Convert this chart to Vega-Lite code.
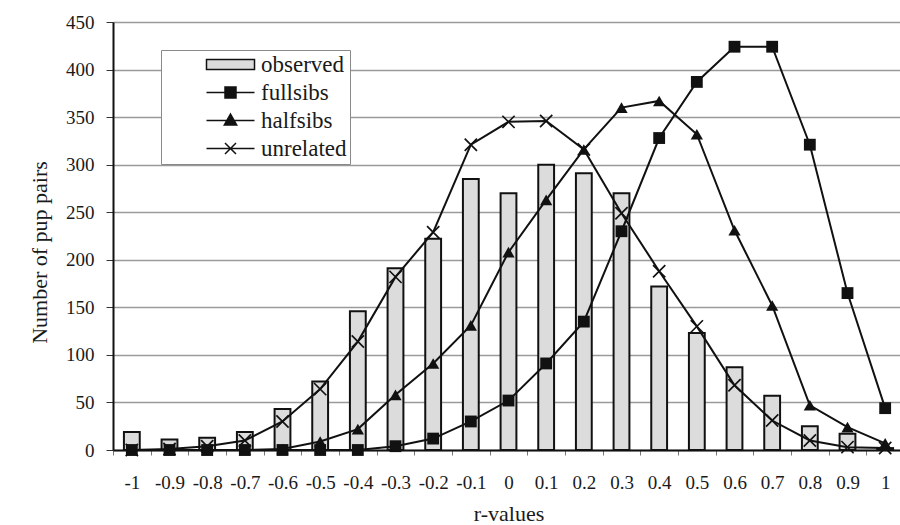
{
  "$schema": "https://vega.github.io/schema/vega-lite/v6.json",
  "width": 791,
  "height": 428,
  "autosize": {"type": "none"},
  "padding": {"left": 113, "top": 22, "right": 0, "bottom": 75},
  "background": "white",
  "config": {
    "view": {"stroke": null},
    "font": "Liberation Serif",
    "axis": {"labelFont": "Liberation Serif", "titleFont": "Liberation Serif", "titleFontWeight": "normal", "labelColor": "#1a1a1a", "titleColor": "#1a1a1a"}
  },
  "datasets": {
    "main": [
      {"r": "-1", "observed": 19, "fullsibs": 0, "halfsibs": 0, "unrelated": 0},
      {"r": "-0.9", "observed": 11, "fullsibs": 0, "halfsibs": 0, "unrelated": 1},
      {"r": "-0.8", "observed": 13, "fullsibs": 0, "halfsibs": 0, "unrelated": 4},
      {"r": "-0.7", "observed": 19, "fullsibs": 0, "halfsibs": 0, "unrelated": 10},
      {"r": "-0.6", "observed": 43, "fullsibs": 0, "halfsibs": 1, "unrelated": 30},
      {"r": "-0.5", "observed": 72, "fullsibs": 0, "halfsibs": 9, "unrelated": 64},
      {"r": "-0.4", "observed": 146, "fullsibs": 0, "halfsibs": 22, "unrelated": 114},
      {"r": "-0.3", "observed": 191, "fullsibs": 4, "halfsibs": 58, "unrelated": 182},
      {"r": "-0.2", "observed": 222, "fullsibs": 12, "halfsibs": 91, "unrelated": 229},
      {"r": "-0.1", "observed": 285, "fullsibs": 30, "halfsibs": 131, "unrelated": 321},
      {"r": "0", "observed": 270, "fullsibs": 52, "halfsibs": 208, "unrelated": 345},
      {"r": "0.1", "observed": 300, "fullsibs": 91, "halfsibs": 263, "unrelated": 346},
      {"r": "0.2", "observed": 291, "fullsibs": 135, "halfsibs": 316, "unrelated": 316},
      {"r": "0.3", "observed": 270, "fullsibs": 230, "halfsibs": 360, "unrelated": 249},
      {"r": "0.4", "observed": 172, "fullsibs": 328, "halfsibs": 367, "unrelated": 188},
      {"r": "0.5", "observed": 123, "fullsibs": 387, "halfsibs": 332, "unrelated": 130},
      {"r": "0.6", "observed": 87, "fullsibs": 424, "halfsibs": 231, "unrelated": 68},
      {"r": "0.7", "observed": 57, "fullsibs": 424, "halfsibs": 152, "unrelated": 31},
      {"r": "0.8", "observed": 25, "fullsibs": 321, "halfsibs": 47, "unrelated": 10},
      {"r": "0.9", "observed": 17, "fullsibs": 165, "halfsibs": 24, "unrelated": 3},
      {"r": "1", "observed": 2, "fullsibs": 44, "halfsibs": 7, "unrelated": 2}
    ],
    "legendItems": [
      {"r": "0", "series": "observed", "value": null},
      {"r": "0", "series": "fullsibs", "value": null},
      {"r": "0", "series": "halfsibs", "value": null},
      {"r": "0", "series": "unrelated", "value": null}
    ]
  },
  "encoding": {
    "x": {
      "field": "r",
      "type": "ordinal",
      "sort": null,
      "scale": {"domain": ["-1","-0.9","-0.8","-0.7","-0.6","-0.5","-0.4","-0.3","-0.2","-0.1","0","0.1","0.2","0.3","0.4","0.5","0.6","0.7","0.8","0.9","1"], "paddingInner": 0, "paddingOuter": 0},
      "axis": {
        "title": "r-values",
        "titleFontSize": 22,
        "titlePadding": 11,
        "labelAngle": 0,
        "labelFontSize": 19,
        "labelPadding": 18,
        "tickBand": "extent",
        "tickSize": 5,
        "tickColor": "#777",
        "domainColor": "#111",
        "domainWidth": 2,
        "grid": false
      }
    }
  },
  "layer": [
    {
      "data": {"name": "main"},
      "mark": {"type": "bar", "width": {"band": 0.42}, "fill": "#dcdcdc", "stroke": "#111", "strokeWidth": 2},
      "encoding": {
        "y": {
          "field": "observed",
          "type": "quantitative",
          "scale": {"domain": [0, 450], "nice": false},
          "axis": {
            "title": "Number of pup pairs",
            "titleFontSize": 22,
            "titlePadding": 14,
            "titleY": 230,
            "values": [0, 50, 100, 150, 200, 250, 300, 350, 400, 450],
            "labelFontSize": 19,
            "labelPadding": 12,
            "tickSize": 7,
            "tickColor": "#333",
            "domainColor": "#111",
            "domainWidth": 2,
            "grid": true,
            "gridColor": "#9a9a9a",
            "gridWidth": 1.5
          }
        }
      }
    },
    {
      "data": {"name": "main"},
      "transform": [{"fold": ["fullsibs", "halfsibs", "unrelated"], "as": ["series", "value"]}],
      "mark": {"type": "line", "color": "#111", "strokeWidth": 2},
      "encoding": {
        "y": {"field": "value", "type": "quantitative"},
        "detail": {"field": "series"}
      }
    },
    {
      "data": {"name": "main"},
      "mark": {"type": "point", "shape": "square", "filled": true, "color": "#111", "size": 140, "opacity": 1},
      "encoding": {"y": {"field": "fullsibs", "type": "quantitative"}}
    },
    {
      "data": {"name": "main"},
      "mark": {"type": "point", "shape": "triangle-up", "filled": true, "color": "#111", "size": 150, "opacity": 1},
      "encoding": {"y": {"field": "halfsibs", "type": "quantitative"}}
    },
    {
      "data": {"name": "main"},
      "mark": {"type": "point", "shape": "M-1,-1L1,1M-1,1L1,-1", "filled": false, "color": "#111", "strokeWidth": 1.7, "size": 150, "opacity": 1},
      "encoding": {"y": {"field": "unrelated", "type": "quantitative"}}
    },
    {
      "data": {"name": "legendItems"},
      "mark": {"type": "point", "filled": true, "stroke": "#111", "strokeWidth": 1.6, "opacity": 1},
      "encoding": {
        "y": {"field": "value", "type": "quantitative"},
        "shape": {
          "field": "series",
          "type": "nominal",
          "scale": {
            "domain": ["observed", "fullsibs", "halfsibs", "unrelated"],
            "range": [
              "M-2.4,-0.5H2.4V0.5H-2.4Z",
              "M-2.4,0H2.4M-0.55,-0.55H0.55V0.55H-0.55Z",
              "M-2.4,0H2.4M0,-0.65L0.62,0.45H-0.62Z",
              "M-2.4,0H2.4M-0.55,-0.55L0.55,0.55M-0.55,0.55L0.55,-0.55"
            ]
          },
          "legend": {
            "title": null,
            "orient": "none",
            "legendX": 48,
            "legendY": 28,
            "padding": 3,
            "symbolOffset": 55,
            "symbolSize": 400,
            "labelOffset": 19,
            "labelFontSize": 23,
            "labelFont": "Liberation Serif",
            "labelColor": "#1a1a1a",
            "rowPadding": 4,
            "strokeColor": "#8a8a8a",
            "fillColor": "white",
            "labelExpr": "datum.label + '\u00a0\u00a0\u00a0\u00a0'",
            "encode": {"symbols": {"update": {"stroke": {"value": "#111"}, "strokeWidth": {"value": 1.8}, "opacity": {"value": 1}}}}
          }
        },
        "fill": {
          "field": "series",
          "type": "nominal",
          "scale": {"domain": ["observed", "fullsibs", "halfsibs", "unrelated"], "range": ["#dcdcdc", "#111", "#111", "#111"]},
          "legend": {
            "title": null,
            "orient": "none",
            "legendX": 48,
            "legendY": 28,
            "padding": 3,
            "symbolOffset": 55,
            "symbolSize": 400,
            "labelOffset": 19,
            "labelFontSize": 23,
            "labelFont": "Liberation Serif",
            "labelColor": "#1a1a1a",
            "rowPadding": 4,
            "strokeColor": "#8a8a8a",
            "fillColor": "white",
            "labelExpr": "datum.label + '\u00a0\u00a0\u00a0\u00a0'",
            "encode": {"symbols": {"update": {"stroke": {"value": "#111"}, "strokeWidth": {"value": 1.8}, "opacity": {"value": 1}}}}
          }
        }
      }
    }
  ]
}
